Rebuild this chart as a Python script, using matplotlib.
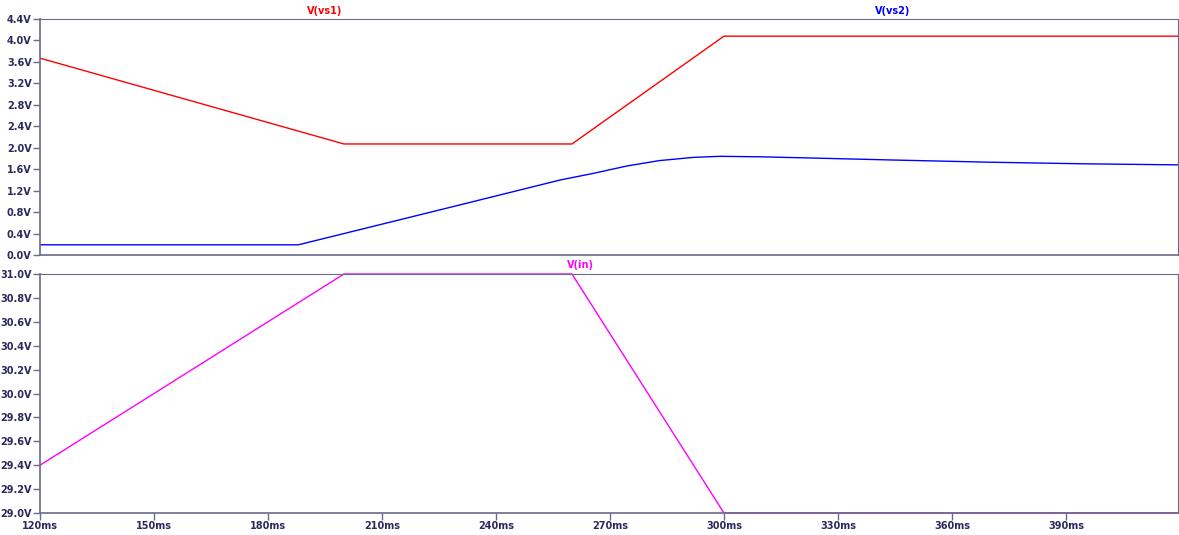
import numpy as np
import matplotlib
matplotlib.use('Agg')
import matplotlib.pyplot as plt

# time axis (ms) and waveforms
vs1_t = [120, 200, 260, 300, 420]
vs1_v = [3.67, 2.07, 2.07, 4.08, 4.08]

vs2_t = [120, 188, 228, 257, 265.5, 274.5, 283, 292, 299, 310, 322, 345, 370, 395, 420]
vs2_v = [0.19, 0.19, 0.89, 1.40, 1.52, 1.66, 1.76, 1.82, 1.84, 1.83, 1.81, 1.77, 1.73, 1.70, 1.68]

vin_t = [120, 200, 260, 300, 420]
vin_v = [29.4, 31.0, 31.0, 29.0, 29.0]

x_ticks = [120, 150, 180, 210, 240, 270, 300, 330, 360, 390]
top_ticks = np.arange(0, 4.41, 0.4)
bot_ticks = np.arange(29.0, 31.01, 0.2)

axis_col = '#6a6a8a'
label_col = '#2a2a5e'

fig = plt.figure(figsize=(11.79, 5.35), dpi=100)
ax1 = fig.add_axes([40/1179, 280/535, 1138/1179, 236/535])
ax2 = fig.add_axes([40/1179, 22/535, 1138/1179, 239/535])


def style(ax, yticks, show_x):
    ax.set_xlim(120, 419.5)
    for s in ax.spines.values():
        s.set_color(axis_col)
        s.set_linewidth(0.8)
    ax.spines['left'].set_linewidth(1.2)
    ax.spines['bottom'].set_linewidth(1.2)
    ax.set_yticks(yticks)
    ax.set_yticklabels(['%.1fV' % v for v in yticks])
    ax.tick_params(axis='both', colors=axis_col, labelcolor=label_col,
                   length=5, width=1, direction='out', labelsize=7, pad=1)
    for lbl in ax.get_yticklabels() + ax.get_xticklabels():
        lbl.set_fontweight('bold')
    if show_x:
        ax.set_xticks(x_ticks)
        ax.set_xticklabels(['%dms' % t for t in x_ticks], fontweight='bold')
    else:
        ax.set_xticks([])


ax1.plot(vs1_t, vs1_v, color='#ff0000', lw=1)
ax1.plot(vs2_t, vs2_v, color='#0000ff', lw=1)
ax1.set_ylim(0, 4.4)
style(ax1, top_ticks, False)

ax2.plot(vin_t, vin_v, color='#ff00ff', lw=1, clip_on=False)
ax2.set_ylim(29.0, 31.0)
style(ax2, bot_ticks, True)

fig.text(325/1179, 1 - 11/535, 'V(vs1)', color='#ff0000', fontsize=7,
         fontweight='bold', ha='center', va='center')
fig.text(893/1179, 1 - 11/535, 'V(vs2)', color='#0000ff', fontsize=7,
         fontweight='bold', ha='center', va='center')
fig.text(580/1179, 1 - 265/535, 'V(in)', color='#ff00ff', fontsize=7,
         fontweight='bold', ha='center', va='center')

fig.savefig('out.png', dpi=100)
